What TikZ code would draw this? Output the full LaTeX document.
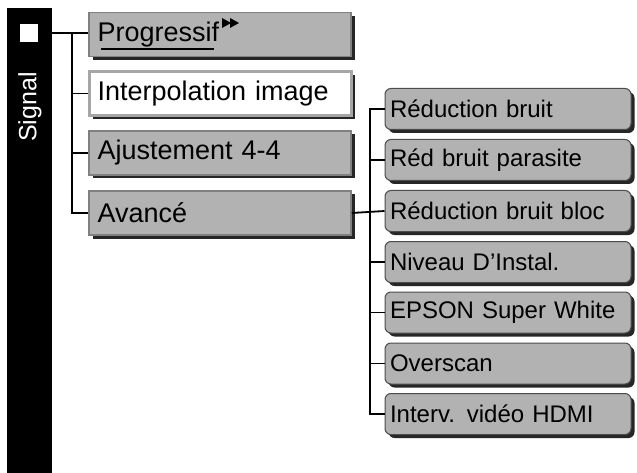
\documentclass[tikz,border=0pt]{standalone}
\usepackage{fontspec}
\setmainfont{Liberation Sans}
\usetikzlibrary{shadows}
\begin{document}
\begin{tikzpicture}[x=1pt,y=-1pt,
  shad/.style={drop shadow={shadow xshift=3.5pt,shadow yshift=-3.5pt,fill=black!85,opacity=1}},
  lbox/.style={shad,fill=black!30,draw=black!50,line width=1.5pt,minimum width=262pt,minimum height=44pt,text width=245pt,align=left,inner sep=0pt,font=\fontsize{27}{30}\selectfont},
  rbox/.style={shad,fill=black!30,draw=black!70,line width=1pt,rounded corners=6pt,minimum width=246pt,minimum height=41pt,text width=236pt,align=left,inner sep=0pt,font=\fontsize{24}{28}\selectfont},
  conn/.style={line width=1.8pt}]
\useasboundingbox (0,0) rectangle (637,473);
\fill[white] (0,0) rectangle (637,473);
\node[fill=black,minimum width=45pt,minimum height=470pt,inner sep=0pt,anchor=north west] (bar) at (7,8) {};
\node[fill=white,minimum width=18pt,minimum height=18pt,inner sep=0pt] (sq) at (28.5,33) {};
\node[white,rotate=90,font=\fontsize{25}{28}\selectfont] (sig) at (30,107) {Signal};
\node[lbox] (p) at (220,34.5) {Progressif};
\node[lbox,fill=white,draw=black!35,line width=3pt] (i) at (220,93.5) {Interpolation image};
\node[lbox] (a) at (220,153) {Ajustement 4-4};
\node[lbox] (v) at (220,213) {Avancé};
\draw[line width=1.5pt] (101,49) -- (214,49);
\fill (222,18) -- (231,23) -- (222,28) -- cycle (230,18) -- (239,23) -- (230,28) -- cycle;
\node[rbox] (r1) at (508,109) {Réduction bruit};
\node[rbox] (r2) at (508,160) {Réd bruit parasite};
\node[rbox] (r3) at (508,211) {Réduction bruit bloc};
\node[rbox] (r4) at (508,262) {Niveau D'Instal.};
\node[rbox] (r5) at (508,312.5) {EPSON Super White};
\node[rbox] (r6) at (508,363.5) {Overscan};
\node[rbox] (r7) at (508,414) {Interv. vidéo HDMI};
\coordinate (j1) at (72,33);
\coordinate (j2) at (370,213);
\draw[conn] (bar.east |- j1) -- (p.west |- j1);
\draw[conn] (j1) |- (v.west);
\draw[conn] (j1 |- i.west) -- (i.west);
\draw[conn] (j1 |- a.west) -- (a.west);
\draw[conn] (v.east) -- (r3.west);
\draw[conn] (r1.west) -| (j2 |- r7.west) -- (r7.west);
\foreach \n in {r2,r4,r5,r6} \draw[conn] (j2 |- \n.west) -- (\n.west);
\end{tikzpicture}
\end{document}
